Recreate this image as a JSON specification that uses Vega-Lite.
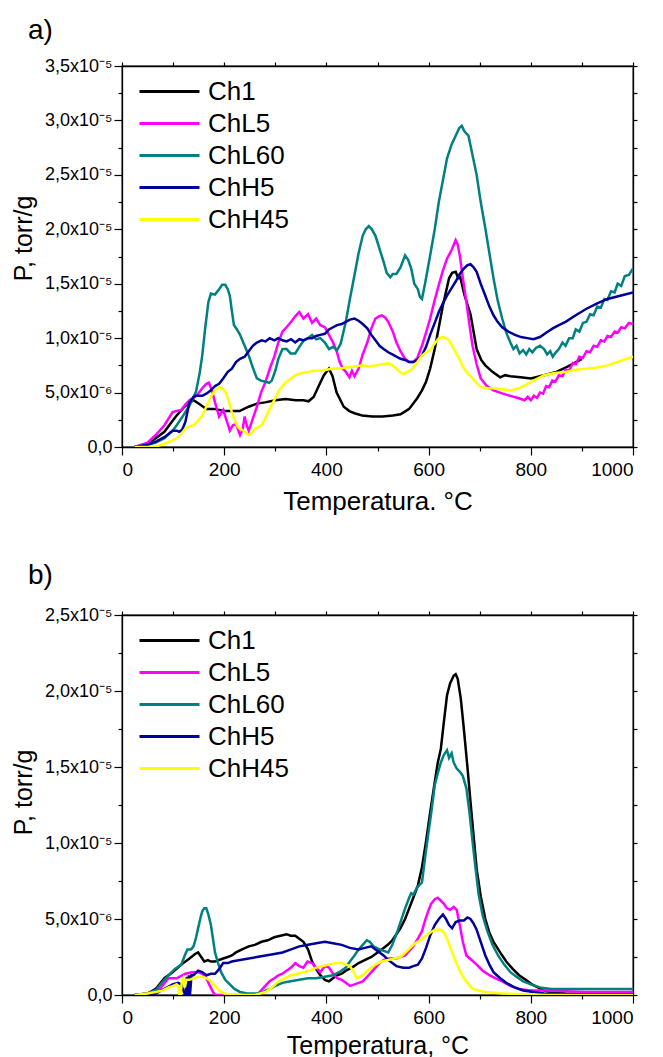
{
"$schema":"https://vega.github.io/schema/vega-lite/v6.json",
"padding":{"left":10,"top":16,"right":5,"bottom":0},
"spacing":46,
"config":{"font":"Liberation Sans","view":{"stroke":"black","strokeWidth":1.3},
"axis":{"grid":false,"domainColor":"black","domainWidth":1.3,"tickColor":"black","tickWidth":1.2,"labelColor":"black","titleColor":"black","labelFont":"Liberation Sans","titleFont":"Liberation Sans","titleFontWeight":"normal"},
"legend":{"orient":"none","legendX":31,"legendY":9,"padding":0,"symbolType":"M-2,0H2","symbolSize":900,"symbolStrokeWidth":3,"labelFontSize":26,"labelFont":"Liberation Sans","labelColor":"black","labelOffset":22,"rowPadding":2,"title":null,"labelLimit":200}},
"datasets":{
"a":[
{"s":"Ch1","T":25,"P":0},{"s":"Ch1","T":50,"P":0.3},{"s":"Ch1","T":66,"P":0.8},{"s":"Ch1","T":83,"P":1.4},{"s":"Ch1","T":99,"P":2.4},{"s":"Ch1","T":107,"P":2.9},{"s":"Ch1","T":120,"P":3.6},{"s":"Ch1","T":132,"P":4.1},{"s":"Ch1","T":140,"P":4.3},{"s":"Ch1","T":150,"P":4.0},{"s":"Ch1","T":165,"P":3.5},{"s":"Ch1","T":180,"P":3.5},{"s":"Ch1","T":200,"P":3.3},{"s":"Ch1","T":215,"P":3.3},{"s":"Ch1","T":230,"P":3.3},{"s":"Ch1","T":248,"P":3.7},{"s":"Ch1","T":265,"P":4.0},{"s":"Ch1","T":280,"P":4.1},{"s":"Ch1","T":300,"P":4.3},{"s":"Ch1","T":320,"P":4.4},{"s":"Ch1","T":340,"P":4.3},{"s":"Ch1","T":355,"P":4.3},{"s":"Ch1","T":365,"P":4.2},{"s":"Ch1","T":375,"P":4.6},{"s":"Ch1","T":385,"P":5.6},{"s":"Ch1","T":395,"P":6.6},{"s":"Ch1","T":405,"P":7.2},{"s":"Ch1","T":412,"P":6.5},{"s":"Ch1","T":420,"P":5.0},{"s":"Ch1","T":434,"P":3.7},{"s":"Ch1","T":445,"P":3.3},{"s":"Ch1","T":455,"P":3.1},{"s":"Ch1","T":470,"P":2.9},{"s":"Ch1","T":490,"P":2.8},{"s":"Ch1","T":510,"P":2.8},{"s":"Ch1","T":530,"P":2.9},{"s":"Ch1","T":545,"P":3.0},{"s":"Ch1","T":555,"P":3.3},{"s":"Ch1","T":562,"P":3.5},{"s":"Ch1","T":570,"P":4.0},{"s":"Ch1","T":578,"P":4.5},{"s":"Ch1","T":587,"P":5.2},{"s":"Ch1","T":595,"P":6.0},{"s":"Ch1","T":603,"P":7.2},{"s":"Ch1","T":612,"P":9.0},{"s":"Ch1","T":620,"P":11.0},{"s":"Ch1","T":628,"P":13.0},{"s":"Ch1","T":640,"P":15.5},{"s":"Ch1","T":646,"P":16.0},{"s":"Ch1","T":653,"P":16.1},{"s":"Ch1","T":658,"P":15.5},{"s":"Ch1","T":662,"P":15.6},{"s":"Ch1","T":670,"P":14.0},{"s":"Ch1","T":682,"P":12.2},{"s":"Ch1","T":694,"P":9.0},{"s":"Ch1","T":703,"P":8.0},{"s":"Ch1","T":711,"P":7.5},{"s":"Ch1","T":725,"P":6.9},{"s":"Ch1","T":740,"P":6.4},{"s":"Ch1","T":750,"P":6.6},{"s":"Ch1","T":760,"P":6.5},{"s":"Ch1","T":780,"P":6.4},{"s":"Ch1","T":800,"P":6.3},{"s":"Ch1","T":818,"P":6.5},{"s":"Ch1","T":835,"P":6.7},{"s":"Ch1","T":850,"P":6.9},{"s":"Ch1","T":868,"P":7.3},{"s":"Ch1","T":885,"P":7.7},{"s":"Ch1","T":900,"P":8.1},
{"s":"ChL5","T":25,"P":0},{"s":"ChL5","T":50,"P":0.4},{"s":"ChL5","T":66,"P":1.1},{"s":"ChL5","T":83,"P":2.0},{"s":"ChL5","T":99,"P":3.2},{"s":"ChL5","T":107,"P":3.3},{"s":"ChL5","T":116,"P":3.4},{"s":"ChL5","T":124,"P":3.9},{"s":"ChL5","T":132,"P":4.3},{"s":"ChL5","T":140,"P":4.5},{"s":"ChL5","T":149,"P":4.9},{"s":"ChL5","T":157,"P":5.4},{"s":"ChL5","T":165,"P":5.8},{"s":"ChL5","T":170,"P":5.9},{"s":"ChL5","T":176,"P":5.2},{"s":"ChL5","T":182,"P":4.1},{"s":"ChL5","T":190,"P":2.8},{"s":"ChL5","T":198,"P":3.4},{"s":"ChL5","T":205,"P":2.4},{"s":"ChL5","T":211,"P":1.5},{"s":"ChL5","T":217,"P":2.0},{"s":"ChL5","T":223,"P":2.1},{"s":"ChL5","T":231,"P":1.1},{"s":"ChL5","T":236,"P":1.6},{"s":"ChL5","T":240,"P":2.8},{"s":"ChL5","T":244,"P":2.0},{"s":"ChL5","T":248,"P":1.5},{"s":"ChL5","T":256,"P":2.6},{"s":"ChL5","T":264,"P":3.7},{"s":"ChL5","T":272,"P":5.0},{"s":"ChL5","T":281,"P":6.0},{"s":"ChL5","T":290,"P":7.3},{"s":"ChL5","T":298,"P":8.3},{"s":"ChL5","T":306,"P":9.6},{"s":"ChL5","T":314,"P":10.6},{"s":"ChL5","T":322,"P":11.0},{"s":"ChL5","T":331,"P":11.5},{"s":"ChL5","T":339,"P":12.0},{"s":"ChL5","T":347,"P":12.4},{"s":"ChL5","T":355,"P":11.8},{"s":"ChL5","T":364,"P":12.2},{"s":"ChL5","T":372,"P":11.4},{"s":"ChL5","T":380,"P":11.8},{"s":"ChL5","T":388,"P":11.2},{"s":"ChL5","T":397,"P":11.0},{"s":"ChL5","T":405,"P":10.3},{"s":"ChL5","T":413,"P":9.6},{"s":"ChL5","T":420,"P":8.8},{"s":"ChL5","T":426,"P":7.8},{"s":"ChL5","T":432,"P":7.2},{"s":"ChL5","T":438,"P":6.9},{"s":"ChL5","T":445,"P":6.4},{"s":"ChL5","T":450,"P":7.0},{"s":"ChL5","T":455,"P":6.5},{"s":"ChL5","T":463,"P":7.2},{"s":"ChL5","T":471,"P":8.5},{"s":"ChL5","T":480,"P":9.6},{"s":"ChL5","T":488,"P":10.9},{"s":"ChL5","T":496,"P":11.8},{"s":"ChL5","T":503,"P":12.0},{"s":"ChL5","T":508,"P":12.1},{"s":"ChL5","T":515,"P":11.9},{"s":"ChL5","T":521,"P":11.5},{"s":"ChL5","T":530,"P":10.6},{"s":"ChL5","T":537,"P":9.6},{"s":"ChL5","T":545,"P":8.8},{"s":"ChL5","T":554,"P":8.1},{"s":"ChL5","T":562,"P":7.8},{"s":"ChL5","T":570,"P":7.8},{"s":"ChL5","T":578,"P":8.2},{"s":"ChL5","T":587,"P":9.3},{"s":"ChL5","T":595,"P":10.5},{"s":"ChL5","T":603,"P":11.8},{"s":"ChL5","T":612,"P":13.5},{"s":"ChL5","T":620,"P":14.9},{"s":"ChL5","T":628,"P":16.2},{"s":"ChL5","T":636,"P":17.3},{"s":"ChL5","T":645,"P":18.1},{"s":"ChL5","T":653,"P":19.0},{"s":"ChL5","T":657,"P":18.6},{"s":"ChL5","T":661,"P":17.6},{"s":"ChL5","T":667,"P":15.5},{"s":"ChL5","T":674,"P":13.3},{"s":"ChL5","T":680,"P":11.2},{"s":"ChL5","T":686,"P":9.3},{"s":"ChL5","T":694,"P":7.6},{"s":"ChL5","T":702,"P":6.3},{"s":"ChL5","T":714,"P":5.6},{"s":"ChL5","T":727,"P":5.2},{"s":"ChL5","T":745,"P":4.9},{"s":"ChL5","T":760,"P":4.7},{"s":"ChL5","T":775,"P":4.5},{"s":"ChL5","T":788,"P":4.3},{"s":"ChL5","T":794,"P":4.6},{"s":"ChL5","T":800,"P":4.3},{"s":"ChL5","T":806,"P":4.7},{"s":"ChL5","T":812,"P":4.5},{"s":"ChL5","T":818,"P":5.0},{"s":"ChL5","T":824,"P":4.9},{"s":"ChL5","T":830,"P":5.6},{"s":"ChL5","T":836,"P":5.5},{"s":"ChL5","T":842,"P":6.1},{"s":"ChL5","T":848,"P":6.0},{"s":"ChL5","T":855,"P":6.6},{"s":"ChL5","T":862,"P":6.5},{"s":"ChL5","T":868,"P":7.1},{"s":"ChL5","T":875,"P":7.0},{"s":"ChL5","T":882,"P":7.7},{"s":"ChL5","T":888,"P":7.6},{"s":"ChL5","T":895,"P":8.3},{"s":"ChL5","T":902,"P":8.2},{"s":"ChL5","T":909,"P":8.8},{"s":"ChL5","T":916,"P":8.7},{"s":"ChL5","T":923,"P":9.3},{"s":"ChL5","T":930,"P":9.2},{"s":"ChL5","T":937,"P":9.8},{"s":"ChL5","T":944,"P":9.7},{"s":"ChL5","T":950,"P":10.2},{"s":"ChL5","T":957,"P":10.1},{"s":"ChL5","T":964,"P":10.6},{"s":"ChL5","T":970,"P":10.5},{"s":"ChL5","T":977,"P":11.0},{"s":"ChL5","T":984,"P":10.9},{"s":"ChL5","T":992,"P":11.4},{"s":"ChL5","T":1000,"P":11.3},
{"s":"ChL60","T":25,"P":0},{"s":"ChL60","T":50,"P":0.2},{"s":"ChL60","T":66,"P":0.4},{"s":"ChL60","T":83,"P":0.8},{"s":"ChL60","T":99,"P":1.5},{"s":"ChL60","T":107,"P":2.0},{"s":"ChL60","T":120,"P":2.9},{"s":"ChL60","T":132,"P":3.8},{"s":"ChL60","T":145,"P":5.1},{"s":"ChL60","T":152,"P":6.8},{"s":"ChL60","T":157,"P":8.4},{"s":"ChL60","T":163,"P":11.0},{"s":"ChL60","T":169,"P":13.3},{"s":"ChL60","T":174,"P":14.1},{"s":"ChL60","T":182,"P":14.0},{"s":"ChL60","T":190,"P":14.5},{"s":"ChL60","T":196,"P":14.9},{"s":"ChL60","T":202,"P":14.9},{"s":"ChL60","T":207,"P":14.5},{"s":"ChL60","T":211,"P":13.9},{"s":"ChL60","T":215,"P":12.5},{"s":"ChL60","T":219,"P":11.2},{"s":"ChL60","T":225,"P":10.8},{"s":"ChL60","T":231,"P":10.3},{"s":"ChL60","T":240,"P":9.3},{"s":"ChL60","T":248,"P":8.4},{"s":"ChL60","T":256,"P":7.3},{"s":"ChL60","T":264,"P":6.3},{"s":"ChL60","T":272,"P":6.1},{"s":"ChL60","T":281,"P":6.0},{"s":"ChL60","T":288,"P":5.9},{"s":"ChL60","T":293,"P":6.1},{"s":"ChL60","T":300,"P":7.0},{"s":"ChL60","T":306,"P":8.1},{"s":"ChL60","T":314,"P":9.0},{"s":"ChL60","T":322,"P":9.0},{"s":"ChL60","T":330,"P":8.6},{"s":"ChL60","T":339,"P":8.6},{"s":"ChL60","T":347,"P":9.2},{"s":"ChL60","T":356,"P":9.8},{"s":"ChL60","T":364,"P":10.0},{"s":"ChL60","T":372,"P":10.3},{"s":"ChL60","T":380,"P":9.9},{"s":"ChL60","T":388,"P":10.0},{"s":"ChL60","T":397,"P":9.6},{"s":"ChL60","T":405,"P":9.0},{"s":"ChL60","T":413,"P":9.2},{"s":"ChL60","T":421,"P":8.9},{"s":"ChL60","T":428,"P":9.5},{"s":"ChL60","T":438,"P":11.5},{"s":"ChL60","T":446,"P":13.6},{"s":"ChL60","T":455,"P":15.8},{"s":"ChL60","T":463,"P":17.8},{"s":"ChL60","T":471,"P":19.4},{"s":"ChL60","T":477,"P":20.0},{"s":"ChL60","T":483,"P":20.3},{"s":"ChL60","T":489,"P":20.0},{"s":"ChL60","T":496,"P":19.4},{"s":"ChL60","T":504,"P":18.2},{"s":"ChL60","T":512,"P":17.0},{"s":"ChL60","T":518,"P":16.0},{"s":"ChL60","T":525,"P":15.6},{"s":"ChL60","T":530,"P":15.9},{"s":"ChL60","T":537,"P":15.9},{"s":"ChL60","T":545,"P":16.5},{"s":"ChL60","T":554,"P":17.6},{"s":"ChL60","T":560,"P":17.2},{"s":"ChL60","T":566,"P":16.4},{"s":"ChL60","T":572,"P":15.0},{"s":"ChL60","T":579,"P":14.5},{"s":"ChL60","T":583,"P":13.8},{"s":"ChL60","T":587,"P":13.6},{"s":"ChL60","T":593,"P":15.0},{"s":"ChL60","T":603,"P":17.6},{"s":"ChL60","T":612,"P":20.0},{"s":"ChL60","T":620,"P":22.5},{"s":"ChL60","T":628,"P":24.5},{"s":"ChL60","T":636,"P":26.5},{"s":"ChL60","T":645,"P":27.8},{"s":"ChL60","T":653,"P":28.6},{"s":"ChL60","T":660,"P":29.3},{"s":"ChL60","T":665,"P":29.5},{"s":"ChL60","T":670,"P":29.0},{"s":"ChL60","T":678,"P":28.6},{"s":"ChL60","T":686,"P":26.8},{"s":"ChL60","T":694,"P":25.0},{"s":"ChL60","T":702,"P":22.5},{"s":"ChL60","T":711,"P":20.1},{"s":"ChL60","T":719,"P":17.8},{"s":"ChL60","T":727,"P":15.5},{"s":"ChL60","T":735,"P":13.5},{"s":"ChL60","T":744,"P":11.8},{"s":"ChL60","T":752,"P":10.5},{"s":"ChL60","T":760,"P":9.6},{"s":"ChL60","T":766,"P":9.0},{"s":"ChL60","T":772,"P":9.3},{"s":"ChL60","T":778,"P":8.6},{"s":"ChL60","T":785,"P":8.9},{"s":"ChL60","T":791,"P":8.5},{"s":"ChL60","T":797,"P":9.0},{"s":"ChL60","T":803,"P":8.7},{"s":"ChL60","T":810,"P":9.1},{"s":"ChL60","T":818,"P":9.3},{"s":"ChL60","T":826,"P":9.0},{"s":"ChL60","T":832,"P":8.5},{"s":"ChL60","T":838,"P":8.8},{"s":"ChL60","T":843,"P":8.3},{"s":"ChL60","T":849,"P":8.7},{"s":"ChL60","T":855,"P":9.0},{"s":"ChL60","T":862,"P":9.6},{"s":"ChL60","T":868,"P":9.3},{"s":"ChL60","T":875,"P":10.0},{"s":"ChL60","T":882,"P":10.0},{"s":"ChL60","T":888,"P":10.8},{"s":"ChL60","T":895,"P":10.6},{"s":"ChL60","T":902,"P":11.4},{"s":"ChL60","T":909,"P":11.5},{"s":"ChL60","T":916,"P":12.2},{"s":"ChL60","T":923,"P":12.1},{"s":"ChL60","T":930,"P":12.9},{"s":"ChL60","T":937,"P":12.8},{"s":"ChL60","T":944,"P":13.6},{"s":"ChL60","T":950,"P":13.5},{"s":"ChL60","T":957,"P":14.3},{"s":"ChL60","T":964,"P":14.2},{"s":"ChL60","T":970,"P":15.0},{"s":"ChL60","T":977,"P":14.8},{"s":"ChL60","T":984,"P":15.7},{"s":"ChL60","T":992,"P":15.8},{"s":"ChL60","T":1000,"P":16.4},
{"s":"ChH5","T":25,"P":0},{"s":"ChH5","T":50,"P":0.2},{"s":"ChH5","T":66,"P":0.5},{"s":"ChH5","T":83,"P":0.9},{"s":"ChH5","T":99,"P":1.5},{"s":"ChH5","T":107,"P":1.5},{"s":"ChH5","T":112,"P":1.4},{"s":"ChH5","T":118,"P":1.6},{"s":"ChH5","T":124,"P":2.3},{"s":"ChH5","T":132,"P":4.1},{"s":"ChH5","T":140,"P":4.6},{"s":"ChH5","T":145,"P":4.7},{"s":"ChH5","T":157,"P":4.7},{"s":"ChH5","T":165,"P":4.9},{"s":"ChH5","T":174,"P":5.2},{"s":"ChH5","T":182,"P":5.6},{"s":"ChH5","T":190,"P":5.8},{"s":"ChH5","T":198,"P":6.3},{"s":"ChH5","T":207,"P":6.9},{"s":"ChH5","T":215,"P":7.2},{"s":"ChH5","T":223,"P":7.8},{"s":"ChH5","T":231,"P":8.1},{"s":"ChH5","T":240,"P":8.3},{"s":"ChH5","T":248,"P":8.8},{"s":"ChH5","T":256,"P":9.3},{"s":"ChH5","T":264,"P":9.6},{"s":"ChH5","T":273,"P":9.8},{"s":"ChH5","T":281,"P":9.7},{"s":"ChH5","T":289,"P":10.0},{"s":"ChH5","T":298,"P":9.8},{"s":"ChH5","T":306,"P":10.0},{"s":"ChH5","T":314,"P":9.8},{"s":"ChH5","T":322,"P":9.7},{"s":"ChH5","T":331,"P":9.9},{"s":"ChH5","T":339,"P":9.6},{"s":"ChH5","T":347,"P":9.9},{"s":"ChH5","T":355,"P":9.8},{"s":"ChH5","T":364,"P":10.0},{"s":"ChH5","T":372,"P":10.0},{"s":"ChH5","T":380,"P":10.2},{"s":"ChH5","T":388,"P":10.3},{"s":"ChH5","T":397,"P":10.4},{"s":"ChH5","T":405,"P":10.8},{"s":"ChH5","T":413,"P":11.0},{"s":"ChH5","T":421,"P":11.2},{"s":"ChH5","T":430,"P":11.3},{"s":"ChH5","T":438,"P":11.5},{"s":"ChH5","T":446,"P":11.7},{"s":"ChH5","T":455,"P":11.8},{"s":"ChH5","T":463,"P":11.6},{"s":"ChH5","T":471,"P":11.3},{"s":"ChH5","T":480,"P":10.9},{"s":"ChH5","T":488,"P":10.3},{"s":"ChH5","T":496,"P":9.8},{"s":"ChH5","T":504,"P":9.3},{"s":"ChH5","T":512,"P":9.0},{"s":"ChH5","T":521,"P":8.7},{"s":"ChH5","T":529,"P":8.5},{"s":"ChH5","T":537,"P":8.3},{"s":"ChH5","T":545,"P":8.1},{"s":"ChH5","T":554,"P":8.0},{"s":"ChH5","T":562,"P":7.8},{"s":"ChH5","T":570,"P":7.8},{"s":"ChH5","T":578,"P":8.0},{"s":"ChH5","T":587,"P":8.4},{"s":"ChH5","T":595,"P":9.2},{"s":"ChH5","T":603,"P":10.3},{"s":"ChH5","T":612,"P":11.4},{"s":"ChH5","T":620,"P":12.4},{"s":"ChH5","T":628,"P":13.2},{"s":"ChH5","T":636,"P":13.9},{"s":"ChH5","T":645,"P":14.6},{"s":"ChH5","T":653,"P":15.2},{"s":"ChH5","T":661,"P":15.9},{"s":"ChH5","T":669,"P":16.4},{"s":"ChH5","T":676,"P":16.7},{"s":"ChH5","T":682,"P":16.8},{"s":"ChH5","T":688,"P":16.5},{"s":"ChH5","T":694,"P":16.1},{"s":"ChH5","T":702,"P":15.0},{"s":"ChH5","T":711,"P":13.9},{"s":"ChH5","T":719,"P":12.9},{"s":"ChH5","T":727,"P":12.1},{"s":"ChH5","T":735,"P":11.5},{"s":"ChH5","T":744,"P":11.0},{"s":"ChH5","T":756,"P":10.6},{"s":"ChH5","T":769,"P":10.3},{"s":"ChH5","T":781,"P":10.1},{"s":"ChH5","T":793,"P":10.0},{"s":"ChH5","T":805,"P":9.9},{"s":"ChH5","T":818,"P":10.1},{"s":"ChH5","T":830,"P":10.5},{"s":"ChH5","T":843,"P":10.9},{"s":"ChH5","T":855,"P":11.2},{"s":"ChH5","T":868,"P":11.5},{"s":"ChH5","T":888,"P":12.1},{"s":"ChH5","T":909,"P":12.7},{"s":"ChH5","T":930,"P":13.2},{"s":"ChH5","T":950,"P":13.6},{"s":"ChH5","T":975,"P":13.9},{"s":"ChH5","T":1000,"P":14.2},
{"s":"ChH45","T":25,"P":0},{"s":"ChH45","T":58,"P":0},{"s":"ChH45","T":70,"P":0.1},{"s":"ChH45","T":83,"P":0.3},{"s":"ChH45","T":99,"P":0.6},{"s":"ChH45","T":107,"P":0.8},{"s":"ChH45","T":116,"P":1.2},{"s":"ChH45","T":124,"P":1.7},{"s":"ChH45","T":132,"P":1.9},{"s":"ChH45","T":140,"P":2.0},{"s":"ChH45","T":149,"P":2.4},{"s":"ChH45","T":157,"P":2.9},{"s":"ChH45","T":165,"P":3.7},{"s":"ChH45","T":174,"P":4.6},{"s":"ChH45","T":182,"P":5.2},{"s":"ChH45","T":190,"P":5.5},{"s":"ChH45","T":196,"P":5.4},{"s":"ChH45","T":202,"P":5.1},{"s":"ChH45","T":208,"P":4.3},{"s":"ChH45","T":215,"P":3.2},{"s":"ChH45","T":221,"P":2.4},{"s":"ChH45","T":227,"P":1.8},{"s":"ChH45","T":234,"P":1.6},{"s":"ChH45","T":240,"P":1.4},{"s":"ChH45","T":248,"P":1.1},{"s":"ChH45","T":254,"P":1.3},{"s":"ChH45","T":260,"P":1.7},{"s":"ChH45","T":266,"P":1.8},{"s":"ChH45","T":273,"P":2.0},{"s":"ChH45","T":281,"P":2.7},{"s":"ChH45","T":289,"P":3.5},{"s":"ChH45","T":298,"P":4.3},{"s":"ChH45","T":306,"P":5.1},{"s":"ChH45","T":314,"P":5.6},{"s":"ChH45","T":322,"P":6.0},{"s":"ChH45","T":331,"P":6.3},{"s":"ChH45","T":339,"P":6.6},{"s":"ChH45","T":352,"P":6.8},{"s":"ChH45","T":364,"P":6.9},{"s":"ChH45","T":376,"P":7.0},{"s":"ChH45","T":388,"P":7.0},{"s":"ChH45","T":400,"P":7.1},{"s":"ChH45","T":413,"P":7.2},{"s":"ChH45","T":425,"P":7.2},{"s":"ChH45","T":438,"P":7.3},{"s":"ChH45","T":455,"P":7.4},{"s":"ChH45","T":471,"P":7.5},{"s":"ChH45","T":484,"P":7.4},{"s":"ChH45","T":496,"P":7.5},{"s":"ChH45","T":508,"P":7.6},{"s":"ChH45","T":521,"P":7.7},{"s":"ChH45","T":529,"P":7.5},{"s":"ChH45","T":537,"P":7.2},{"s":"ChH45","T":543,"P":6.9},{"s":"ChH45","T":550,"P":6.7},{"s":"ChH45","T":558,"P":6.9},{"s":"ChH45","T":564,"P":7.0},{"s":"ChH45","T":570,"P":7.3},{"s":"ChH45","T":578,"P":7.8},{"s":"ChH45","T":587,"P":8.4},{"s":"ChH45","T":595,"P":8.7},{"s":"ChH45","T":603,"P":8.9},{"s":"ChH45","T":612,"P":9.5},{"s":"ChH45","T":620,"P":10.0},{"s":"ChH45","T":628,"P":10.1},{"s":"ChH45","T":634,"P":10.0},{"s":"ChH45","T":640,"P":9.8},{"s":"ChH45","T":646,"P":9.3},{"s":"ChH45","T":653,"P":8.7},{"s":"ChH45","T":661,"P":8.0},{"s":"ChH45","T":669,"P":7.2},{"s":"ChH45","T":678,"P":6.7},{"s":"ChH45","T":686,"P":6.3},{"s":"ChH45","T":694,"P":5.9},{"s":"ChH45","T":702,"P":5.5},{"s":"ChH45","T":715,"P":5.4},{"s":"ChH45","T":727,"P":5.4},{"s":"ChH45","T":744,"P":5.3},{"s":"ChH45","T":760,"P":5.2},{"s":"ChH45","T":777,"P":5.4},{"s":"ChH45","T":790,"P":5.7},{"s":"ChH45","T":802,"P":6.0},{"s":"ChH45","T":814,"P":6.3},{"s":"ChH45","T":826,"P":6.6},{"s":"ChH45","T":847,"P":6.8},{"s":"ChH45","T":868,"P":6.9},{"s":"ChH45","T":888,"P":7.1},{"s":"ChH45","T":909,"P":7.2},{"s":"ChH45","T":930,"P":7.3},{"s":"ChH45","T":950,"P":7.5},{"s":"ChH45","T":975,"P":7.9},{"s":"ChH45","T":1000,"P":8.3}
],
"b":[
{"s":"Ch1","T":25,"P":0},{"s":"Ch1","T":50,"P":0.1},{"s":"Ch1","T":66,"P":0.4},{"s":"Ch1","T":83,"P":1.1},{"s":"Ch1","T":99,"P":1.5},{"s":"Ch1","T":116,"P":2.0},{"s":"Ch1","T":132,"P":2.4},{"s":"Ch1","T":143,"P":2.7},{"s":"Ch1","T":149,"P":2.8},{"s":"Ch1","T":155,"P":2.5},{"s":"Ch1","T":161,"P":2.2},{"s":"Ch1","T":168,"P":2.3},{"s":"Ch1","T":174,"P":2.2},{"s":"Ch1","T":182,"P":2.2},{"s":"Ch1","T":190,"P":2.3},{"s":"Ch1","T":198,"P":2.4},{"s":"Ch1","T":207,"P":2.5},{"s":"Ch1","T":215,"P":2.6},{"s":"Ch1","T":223,"P":2.8},{"s":"Ch1","T":235,"P":3.0},{"s":"Ch1","T":248,"P":3.2},{"s":"Ch1","T":260,"P":3.3},{"s":"Ch1","T":273,"P":3.5},{"s":"Ch1","T":285,"P":3.6},{"s":"Ch1","T":298,"P":3.8},{"s":"Ch1","T":310,"P":3.9},{"s":"Ch1","T":322,"P":4.0},{"s":"Ch1","T":330,"P":3.9},{"s":"Ch1","T":339,"P":3.9},{"s":"Ch1","T":347,"P":3.7},{"s":"Ch1","T":355,"P":3.5},{"s":"Ch1","T":364,"P":3.0},{"s":"Ch1","T":372,"P":2.2},{"s":"Ch1","T":380,"P":1.7},{"s":"Ch1","T":388,"P":1.3},{"s":"Ch1","T":397,"P":1.0},{"s":"Ch1","T":405,"P":0.9},{"s":"Ch1","T":413,"P":1.1},{"s":"Ch1","T":421,"P":1.3},{"s":"Ch1","T":430,"P":1.4},{"s":"Ch1","T":438,"P":1.6},{"s":"Ch1","T":450,"P":1.8},{"s":"Ch1","T":463,"P":2.1},{"s":"Ch1","T":475,"P":2.3},{"s":"Ch1","T":488,"P":2.5},{"s":"Ch1","T":500,"P":2.8},{"s":"Ch1","T":512,"P":3.1},{"s":"Ch1","T":520,"P":3.3},{"s":"Ch1","T":529,"P":3.6},{"s":"Ch1","T":537,"P":4.0},{"s":"Ch1","T":545,"P":4.4},{"s":"Ch1","T":554,"P":5.0},{"s":"Ch1","T":562,"P":5.7},{"s":"Ch1","T":570,"P":6.4},{"s":"Ch1","T":579,"P":7.2},{"s":"Ch1","T":587,"P":8.4},{"s":"Ch1","T":595,"P":10.1},{"s":"Ch1","T":603,"P":12.0},{"s":"Ch1","T":612,"P":14.0},{"s":"Ch1","T":618,"P":15.3},{"s":"Ch1","T":624,"P":16.2},{"s":"Ch1","T":630,"P":18.0},{"s":"Ch1","T":636,"P":19.7},{"s":"Ch1","T":642,"P":20.5},{"s":"Ch1","T":649,"P":21.0},{"s":"Ch1","T":653,"P":21.1},{"s":"Ch1","T":657,"P":20.8},{"s":"Ch1","T":663,"P":19.5},{"s":"Ch1","T":669,"P":17.5},{"s":"Ch1","T":676,"P":15.0},{"s":"Ch1","T":682,"P":12.7},{"s":"Ch1","T":688,"P":10.5},{"s":"Ch1","T":694,"P":8.3},{"s":"Ch1","T":702,"P":6.5},{"s":"Ch1","T":711,"P":5.0},{"s":"Ch1","T":719,"P":4.1},{"s":"Ch1","T":727,"P":3.5},{"s":"Ch1","T":740,"P":2.8},{"s":"Ch1","T":752,"P":2.2},{"s":"Ch1","T":765,"P":1.7},{"s":"Ch1","T":777,"P":1.3},{"s":"Ch1","T":790,"P":1.0},{"s":"Ch1","T":802,"P":0.7},{"s":"Ch1","T":814,"P":0.5},{"s":"Ch1","T":826,"P":0.3},{"s":"Ch1","T":847,"P":0.15},{"s":"Ch1","T":868,"P":0.1},{"s":"Ch1","T":909,"P":0.05},{"s":"Ch1","T":1000,"P":0.05},
{"s":"ChL5","T":25,"P":0},{"s":"ChL5","T":50,"P":0.1},{"s":"ChL5","T":74,"P":0.4},{"s":"ChL5","T":91,"P":1.1},{"s":"ChL5","T":107,"P":1.1},{"s":"ChL5","T":124,"P":1.4},{"s":"ChL5","T":137,"P":1.5},{"s":"ChL5","T":149,"P":1.5},{"s":"ChL5","T":157,"P":1.4},{"s":"ChL5","T":165,"P":1.1},{"s":"ChL5","T":172,"P":0.6},{"s":"ChL5","T":178,"P":0.2},{"s":"ChL5","T":182,"P":0},{"s":"ChL5","T":264,"P":0},{"s":"ChL5","T":275,"P":0.4},{"s":"ChL5","T":289,"P":0.9},{"s":"ChL5","T":298,"P":1.1},{"s":"ChL5","T":306,"P":1.3},{"s":"ChL5","T":314,"P":1.4},{"s":"ChL5","T":322,"P":1.6},{"s":"ChL5","T":331,"P":1.8},{"s":"ChL5","T":339,"P":2.1},{"s":"ChL5","T":347,"P":1.9},{"s":"ChL5","T":355,"P":1.8},{"s":"ChL5","T":363,"P":2.2},{"s":"ChL5","T":372,"P":2.1},{"s":"ChL5","T":380,"P":1.8},{"s":"ChL5","T":388,"P":1.5},{"s":"ChL5","T":397,"P":1.9},{"s":"ChL5","T":405,"P":1.8},{"s":"ChL5","T":413,"P":1.4},{"s":"ChL5","T":421,"P":1.1},{"s":"ChL5","T":430,"P":1.0},{"s":"ChL5","T":438,"P":0.8},{"s":"ChL5","T":446,"P":0.6},{"s":"ChL5","T":455,"P":0.7},{"s":"ChL5","T":463,"P":0.8},{"s":"ChL5","T":471,"P":0.9},{"s":"ChL5","T":480,"P":1.2},{"s":"ChL5","T":488,"P":1.5},{"s":"ChL5","T":496,"P":1.8},{"s":"ChL5","T":504,"P":2.1},{"s":"ChL5","T":512,"P":2.3},{"s":"ChL5","T":521,"P":2.4},{"s":"ChL5","T":529,"P":2.4},{"s":"ChL5","T":537,"P":2.4},{"s":"ChL5","T":545,"P":2.5},{"s":"ChL5","T":554,"P":2.6},{"s":"ChL5","T":562,"P":2.9},{"s":"ChL5","T":570,"P":3.2},{"s":"ChL5","T":579,"P":3.7},{"s":"ChL5","T":587,"P":4.2},{"s":"ChL5","T":593,"P":4.9},{"s":"ChL5","T":599,"P":5.5},{"s":"ChL5","T":605,"P":6.0},{"s":"ChL5","T":612,"P":6.3},{"s":"ChL5","T":618,"P":6.4},{"s":"ChL5","T":624,"P":6.2},{"s":"ChL5","T":630,"P":6.0},{"s":"ChL5","T":636,"P":5.7},{"s":"ChL5","T":642,"P":5.6},{"s":"ChL5","T":649,"P":5.8},{"s":"ChL5","T":655,"P":5.6},{"s":"ChL5","T":661,"P":4.6},{"s":"ChL5","T":667,"P":3.5},{"s":"ChL5","T":674,"P":2.6},{"s":"ChL5","T":684,"P":2.3},{"s":"ChL5","T":694,"P":2.0},{"s":"ChL5","T":706,"P":1.6},{"s":"ChL5","T":719,"P":1.3},{"s":"ChL5","T":731,"P":1.1},{"s":"ChL5","T":744,"P":0.9},{"s":"ChL5","T":760,"P":0.6},{"s":"ChL5","T":777,"P":0.4},{"s":"ChL5","T":800,"P":0.3},{"s":"ChL5","T":826,"P":0.3},{"s":"ChL5","T":868,"P":0.25},{"s":"ChL5","T":909,"P":0.2},{"s":"ChL5","T":1000,"P":0.2},
{"s":"ChL60","T":25,"P":0},{"s":"ChL60","T":50,"P":0.1},{"s":"ChL60","T":66,"P":0.3},{"s":"ChL60","T":78,"P":0.8},{"s":"ChL60","T":91,"P":1.3},{"s":"ChL60","T":103,"P":1.7},{"s":"ChL60","T":116,"P":2.0},{"s":"ChL60","T":124,"P":2.7},{"s":"ChL60","T":128,"P":3.0},{"s":"ChL60","T":135,"P":3.0},{"s":"ChL60","T":140,"P":3.2},{"s":"ChL60","T":145,"P":3.8},{"s":"ChL60","T":149,"P":4.4},{"s":"ChL60","T":153,"P":5.0},{"s":"ChL60","T":157,"P":5.5},{"s":"ChL60","T":161,"P":5.7},{"s":"ChL60","T":165,"P":5.7},{"s":"ChL60","T":169,"P":5.3},{"s":"ChL60","T":174,"P":4.6},{"s":"ChL60","T":178,"P":3.7},{"s":"ChL60","T":182,"P":2.8},{"s":"ChL60","T":188,"P":2.1},{"s":"ChL60","T":194,"P":1.5},{"s":"ChL60","T":202,"P":1.0},{"s":"ChL60","T":211,"P":0.7},{"s":"ChL60","T":220,"P":0.4},{"s":"ChL60","T":231,"P":0.2},{"s":"ChL60","T":245,"P":0.1},{"s":"ChL60","T":264,"P":0.1},{"s":"ChL60","T":276,"P":0.2},{"s":"ChL60","T":289,"P":0.4},{"s":"ChL60","T":300,"P":0.6},{"s":"ChL60","T":314,"P":0.8},{"s":"ChL60","T":330,"P":0.9},{"s":"ChL60","T":347,"P":1.0},{"s":"ChL60","T":364,"P":1.1},{"s":"ChL60","T":380,"P":1.1},{"s":"ChL60","T":397,"P":1.2},{"s":"ChL60","T":413,"P":1.3},{"s":"ChL60","T":425,"P":1.5},{"s":"ChL60","T":438,"P":1.8},{"s":"ChL60","T":446,"P":2.2},{"s":"ChL60","T":455,"P":2.6},{"s":"ChL60","T":463,"P":3.0},{"s":"ChL60","T":471,"P":3.3},{"s":"ChL60","T":479,"P":3.6},{"s":"ChL60","T":485,"P":3.5},{"s":"ChL60","T":492,"P":3.2},{"s":"ChL60","T":498,"P":3.1},{"s":"ChL60","T":504,"P":3.0},{"s":"ChL60","T":512,"P":2.9},{"s":"ChL60","T":521,"P":2.8},{"s":"ChL60","T":529,"P":3.3},{"s":"ChL60","T":537,"P":4.0},{"s":"ChL60","T":545,"P":4.8},{"s":"ChL60","T":554,"P":5.7},{"s":"ChL60","T":562,"P":6.4},{"s":"ChL60","T":566,"P":6.7},{"s":"ChL60","T":570,"P":6.6},{"s":"ChL60","T":578,"P":7.1},{"s":"ChL60","T":587,"P":7.4},{"s":"ChL60","T":593,"P":9.0},{"s":"ChL60","T":599,"P":10.5},{"s":"ChL60","T":606,"P":12.2},{"s":"ChL60","T":612,"P":13.8},{"s":"ChL60","T":618,"P":14.6},{"s":"ChL60","T":624,"P":15.3},{"s":"ChL60","T":630,"P":15.8},{"s":"ChL60","T":636,"P":16.1},{"s":"ChL60","T":640,"P":15.6},{"s":"ChL60","T":645,"P":15.9},{"s":"ChL60","T":649,"P":15.3},{"s":"ChL60","T":655,"P":14.9},{"s":"ChL60","T":661,"P":14.7},{"s":"ChL60","T":667,"P":14.4},{"s":"ChL60","T":674,"P":13.6},{"s":"ChL60","T":680,"P":12.0},{"s":"ChL60","T":686,"P":10.1},{"s":"ChL60","T":692,"P":8.3},{"s":"ChL60","T":698,"P":6.6},{"s":"ChL60","T":706,"P":5.2},{"s":"ChL60","T":715,"P":4.2},{"s":"ChL60","T":725,"P":3.3},{"s":"ChL60","T":736,"P":2.6},{"s":"ChL60","T":748,"P":2.0},{"s":"ChL60","T":760,"P":1.5},{"s":"ChL60","T":772,"P":1.2},{"s":"ChL60","T":785,"P":0.9},{"s":"ChL60","T":800,"P":0.7},{"s":"ChL60","T":818,"P":0.5},{"s":"ChL60","T":840,"P":0.4},{"s":"ChL60","T":868,"P":0.4},{"s":"ChL60","T":909,"P":0.4},{"s":"ChL60","T":950,"P":0.4},{"s":"ChL60","T":1000,"P":0.4},
{"s":"ChH5","T":25,"P":0},{"s":"ChH5","T":66,"P":0.1},{"s":"ChH5","T":83,"P":0.4},{"s":"ChH5","T":99,"P":0.7},{"s":"ChH5","T":110,"P":0.8},{"s":"ChH5","T":116,"P":0.7},{"s":"ChH5","T":120,"P":0.3},{"s":"ChH5","T":124,"P":0},{"s":"ChH5","T":127,"P":1.2},{"s":"ChH5","T":129,"P":0},{"s":"ChH5","T":131,"P":1.3},{"s":"ChH5","T":133,"P":0},{"s":"ChH5","T":136,"P":1.3},{"s":"ChH5","T":140,"P":1.3},{"s":"ChH5","T":149,"P":1.6},{"s":"ChH5","T":157,"P":1.5},{"s":"ChH5","T":165,"P":1.3},{"s":"ChH5","T":174,"P":1.4},{"s":"ChH5","T":182,"P":1.4},{"s":"ChH5","T":190,"P":1.7},{"s":"ChH5","T":198,"P":2.1},{"s":"ChH5","T":207,"P":2.1},{"s":"ChH5","T":215,"P":2.2},{"s":"ChH5","T":231,"P":2.3},{"s":"ChH5","T":248,"P":2.4},{"s":"ChH5","T":264,"P":2.5},{"s":"ChH5","T":281,"P":2.6},{"s":"ChH5","T":298,"P":2.7},{"s":"ChH5","T":314,"P":2.8},{"s":"ChH5","T":331,"P":3.0},{"s":"ChH5","T":347,"P":3.2},{"s":"ChH5","T":364,"P":3.3},{"s":"ChH5","T":380,"P":3.4},{"s":"ChH5","T":397,"P":3.5},{"s":"ChH5","T":413,"P":3.4},{"s":"ChH5","T":430,"P":3.3},{"s":"ChH5","T":446,"P":3.1},{"s":"ChH5","T":463,"P":3.0},{"s":"ChH5","T":475,"P":3.1},{"s":"ChH5","T":488,"P":3.2},{"s":"ChH5","T":496,"P":3.0},{"s":"ChH5","T":504,"P":2.8},{"s":"ChH5","T":512,"P":2.6},{"s":"ChH5","T":521,"P":2.3},{"s":"ChH5","T":529,"P":2.1},{"s":"ChH5","T":537,"P":1.9},{"s":"ChH5","T":550,"P":1.8},{"s":"ChH5","T":562,"P":1.8},{"s":"ChH5","T":570,"P":1.9},{"s":"ChH5","T":579,"P":2.0},{"s":"ChH5","T":587,"P":2.4},{"s":"ChH5","T":595,"P":3.1},{"s":"ChH5","T":603,"P":3.9},{"s":"ChH5","T":612,"P":4.6},{"s":"ChH5","T":620,"P":5.0},{"s":"ChH5","T":628,"P":5.3},{"s":"ChH5","T":634,"P":5.0},{"s":"ChH5","T":640,"P":4.6},{"s":"ChH5","T":646,"P":4.4},{"s":"ChH5","T":653,"P":4.8},{"s":"ChH5","T":661,"P":4.9},{"s":"ChH5","T":669,"P":4.9},{"s":"ChH5","T":676,"P":5.1},{"s":"ChH5","T":682,"P":5.0},{"s":"ChH5","T":688,"P":4.7},{"s":"ChH5","T":694,"P":4.3},{"s":"ChH5","T":702,"P":3.5},{"s":"ChH5","T":711,"P":2.6},{"s":"ChH5","T":719,"P":2.0},{"s":"ChH5","T":727,"P":1.5},{"s":"ChH5","T":740,"P":1.1},{"s":"ChH5","T":752,"P":0.8},{"s":"ChH5","T":768,"P":0.5},{"s":"ChH5","T":785,"P":0.3},{"s":"ChH5","T":805,"P":0.2},{"s":"ChH5","T":826,"P":0.1},{"s":"ChH5","T":868,"P":0.05},{"s":"ChH5","T":1000,"P":0.05},
{"s":"ChH45","T":25,"P":0},{"s":"ChH45","T":50,"P":0.1},{"s":"ChH45","T":66,"P":0.2},{"s":"ChH45","T":80,"P":0.3},{"s":"ChH45","T":91,"P":0.5},{"s":"ChH45","T":100,"P":0.6},{"s":"ChH45","T":107,"P":0.7},{"s":"ChH45","T":111,"P":0.5},{"s":"ChH45","T":112,"P":0},{"s":"ChH45","T":115,"P":0},{"s":"ChH45","T":117,"P":0.9},{"s":"ChH45","T":120,"P":1.1},{"s":"ChH45","T":123,"P":0.5},{"s":"ChH45","T":126,"P":1.0},{"s":"ChH45","T":132,"P":1.0},{"s":"ChH45","T":140,"P":1.1},{"s":"ChH45","T":149,"P":1.2},{"s":"ChH45","T":157,"P":1.2},{"s":"ChH45","T":165,"P":1.1},{"s":"ChH45","T":174,"P":0.9},{"s":"ChH45","T":182,"P":0.6},{"s":"ChH45","T":190,"P":0.3},{"s":"ChH45","T":200,"P":0.1},{"s":"ChH45","T":215,"P":0},{"s":"ChH45","T":260,"P":0},{"s":"ChH45","T":281,"P":0.2},{"s":"ChH45","T":294,"P":0.5},{"s":"ChH45","T":306,"P":0.9},{"s":"ChH45","T":318,"P":1.1},{"s":"ChH45","T":331,"P":1.3},{"s":"ChH45","T":343,"P":1.4},{"s":"ChH45","T":355,"P":1.5},{"s":"ChH45","T":368,"P":1.6},{"s":"ChH45","T":380,"P":1.8},{"s":"ChH45","T":393,"P":1.9},{"s":"ChH45","T":405,"P":2.0},{"s":"ChH45","T":418,"P":2.1},{"s":"ChH45","T":430,"P":2.1},{"s":"ChH45","T":438,"P":2.0},{"s":"ChH45","T":446,"P":1.9},{"s":"ChH45","T":452,"P":1.6},{"s":"ChH45","T":459,"P":1.1},{"s":"ChH45","T":465,"P":1.2},{"s":"ChH45","T":471,"P":1.3},{"s":"ChH45","T":484,"P":1.7},{"s":"ChH45","T":496,"P":2.0},{"s":"ChH45","T":508,"P":2.2},{"s":"ChH45","T":521,"P":2.3},{"s":"ChH45","T":533,"P":2.4},{"s":"ChH45","T":545,"P":2.5},{"s":"ChH45","T":558,"P":2.9},{"s":"ChH45","T":570,"P":3.3},{"s":"ChH45","T":583,"P":3.6},{"s":"ChH45","T":595,"P":3.9},{"s":"ChH45","T":603,"P":4.1},{"s":"ChH45","T":612,"P":4.3},{"s":"ChH45","T":618,"P":4.3},{"s":"ChH45","T":624,"P":4.3},{"s":"ChH45","T":630,"P":4.1},{"s":"ChH45","T":636,"P":3.7},{"s":"ChH45","T":644,"P":3.0},{"s":"ChH45","T":653,"P":2.2},{"s":"ChH45","T":661,"P":1.6},{"s":"ChH45","T":669,"P":1.1},{"s":"ChH45","T":678,"P":0.7},{"s":"ChH45","T":686,"P":0.4},{"s":"ChH45","T":698,"P":0.3},{"s":"ChH45","T":711,"P":0.2},{"s":"ChH45","T":744,"P":0.1},{"s":"ChH45","T":790,"P":0.05},{"s":"ChH45","T":830,"P":0},{"s":"ChH45","T":1000,"P":0}
]},
"vconcat":[
{"title":{"text":"a)","anchor":"start","frame":"group","dx":-94,"fontSize":28,"fontWeight":"normal","font":"Liberation Sans","offset":12},
"width":511,"height":381,"data":{"name":"a"},
"layer":[
{"mark":{"type":"line","strokeWidth":2.5,"clip":true},
"encoding":{
"x":{"field":"T","type":"quantitative","scale":{"domain":[0,1000]},"axis":{"values":[0,100,200,300,400,500,600,700,800,900,1000],"labelExpr":"datum.value % 200 == 0 ? format(datum.value,'d') : ''","tickSize":{"condition":{"test":"datum.value % 200 != 0","value":4},"value":8},"labelFontSize":19,"labelPadding":5,"title":"Temperatura. °C","titleFontSize":26,"titlePadding":9}},
"y":{"field":"P","type":"quantitative","scale":{"domain":[0,35]},"axis":{"values":[0,2.5,5,7.5,10,12.5,15,17.5,20,22.5,25,27.5,30,32.5,35],"labelExpr":"datum.value % 5 != 0 ? '' : datum.value == 0 ? '0,0' : datum.value < 10 ? replace(format(datum.value,'.1f'),'.',',') + 'x10⁻⁶' : replace(format(datum.value/10,'.1f'),'.',',') + 'x10⁻⁵'","tickSize":{"condition":{"test":"datum.value % 5 != 0","value":4},"value":8},"labelFontSize":18,"labelPadding":2,"title":"P, torr/g","titleFontSize":25,"titlePadding":8,"titleY":172}},
"color":{"field":"s","type":"nominal","scale":{"domain":["Ch1","ChL5","ChL60","ChH5","ChH45"],"range":["#000000","#FF00FF","#008080","#00009C","#FFFF00"]},"legend":{}}}},
{"mark":{"type":"line","opacity":0},
"encoding":{
"x":{"field":"T","type":"quantitative","scale":{"domain":[0,1000]},"axis":{"orient":"top","values":[0,100,200,300,400,500,600,700,800,900,1000],"labels":false,"title":null,"tickSize":4}},
"y":{"field":"P","type":"quantitative","scale":{"domain":[0,35]},"axis":{"orient":"right","values":[0,2.5,5,7.5,10,12.5,15,17.5,20,22.5,25,27.5,30,32.5,35],"labels":false,"title":null,"tickSize":4}}}}
],
"resolve":{"axis":{"x":"independent","y":"independent"}}},
{"title":{"text":"b)","anchor":"start","frame":"group","dx":-94,"fontSize":28,"fontWeight":"normal","font":"Liberation Sans","offset":16},
"width":511,"height":380,"data":{"name":"b"},
"layer":[
{"mark":{"type":"line","strokeWidth":2.5,"clip":true},
"encoding":{
"x":{"field":"T","type":"quantitative","scale":{"domain":[0,1000]},"axis":{"values":[0,100,200,300,400,500,600,700,800,900,1000],"labelExpr":"datum.value % 200 == 0 ? format(datum.value,'d') : ''","tickSize":{"condition":{"test":"datum.value % 200 != 0","value":4},"value":8},"labelFontSize":19,"labelPadding":5,"title":"Temperatura, °C","titleFontSize":25,"titlePadding":6}},
"y":{"field":"P","type":"quantitative","scale":{"domain":[0,25]},"axis":{"values":[0,2.5,5,7.5,10,12.5,15,17.5,20,22.5,25],"labelExpr":"datum.value % 5 != 0 ? '' : datum.value == 0 ? '0,0' : datum.value < 10 ? replace(format(datum.value,'.1f'),'.',',') + 'x10⁻⁶' : replace(format(datum.value/10,'.1f'),'.',',') + 'x10⁻⁵'","tickSize":{"condition":{"test":"datum.value % 5 != 0","value":4},"value":8},"labelFontSize":18,"labelPadding":2,"title":"P, torr/g","titleFontSize":25,"titlePadding":8,"titleY":177}},
"color":{"field":"s","type":"nominal","scale":{"domain":["Ch1","ChL5","ChL60","ChH5","ChH45"],"range":["#000000","#FF00FF","#008080","#00009C","#FFFF00"]},"legend":{}}}},
{"mark":{"type":"line","opacity":0},
"encoding":{
"x":{"field":"T","type":"quantitative","scale":{"domain":[0,1000]},"axis":{"orient":"top","values":[0,100,200,300,400,500,600,700,800,900,1000],"labels":false,"title":null,"tickSize":4}},
"y":{"field":"P","type":"quantitative","scale":{"domain":[0,25]},"axis":{"orient":"right","values":[0,2.5,5,7.5,10,12.5,15,17.5,20,22.5,25],"labels":false,"title":null,"tickSize":4}}}}
],
"resolve":{"axis":{"x":"independent","y":"independent"}}}
],
"resolve":{"scale":{"color":"independent"},"legend":{"color":"independent"}}
}
